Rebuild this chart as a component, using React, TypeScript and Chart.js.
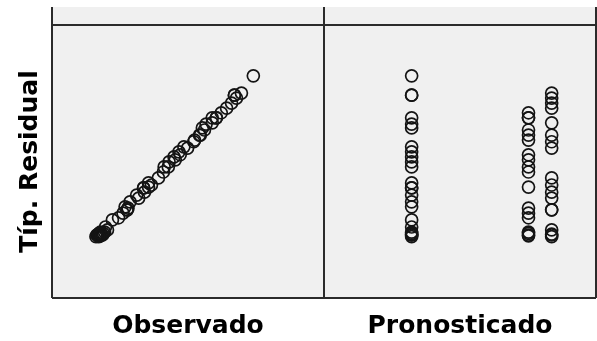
import { useEffect, useRef } from "react";
import { Chart, registerables } from "chart.js";

Chart.register(...registerables);

// Predicted value shared by every case in each group
const PRED_LEVELS = [3.07, 4.23, 4.46];

// Standardized residuals, per predicted-value group
const RESID_G1 = [2.17, 1.71, 1.71, 1.17, 1.02, 0.93, 0.48, 0.36, 0.24, 0.12, 0.0, -0.38, -0.5, -0.5, -0.67, -0.83, -0.95, -1.26, -1.43, -1.55, -1.62, -1.66, -1.58, -1.62, -1.6];
const RESID_G2 = [1.29, 1.17, 1.17, 0.88, 0.76, 0.64, 0.29, 0.17, 0.0, -0.12, -0.48, -0.98, -1.1, -1.21, -1.55, -1.62, -1.58, -1.64];
const RESID_G3 = [1.76, 1.64, 1.52, 1.4, 1.05, 0.76, 0.6, 0.45, -0.26, -0.43, -0.6, -0.74, -1.02, -1.02, -1.5, -1.62, -1.6, -1.66];

// Observed values for the same cases, in the same order
const OBS_G1 = [5.67, 5.21, 5.21, 4.67, 4.52, 4.43, 3.98, 3.86, 3.74, 3.62, 3.5, 3.12, 3.0, 3.0, 2.83, 2.67, 2.55, 2.24, 2.07, 1.95, 1.88, 1.84, 1.92, 1.86, 1.9];
const OBS_G2 = [4.89, 4.77, 4.77, 4.48, 4.36, 4.24, 3.89, 3.77, 3.6, 3.48, 3.12, 2.62, 2.5, 2.39, 2.05, 1.98, 2.02, 1.94];
const OBS_G3 = [5.38, 5.26, 5.14, 5.02, 4.67, 4.38, 4.22, 4.07, 3.36, 3.19, 3.02, 2.88, 2.6, 2.6, 2.12, 2.0, 1.97, 1.91];

// Axis ranges of the matrix cells
const RESID_RANGE = [-3.12, 3.38];
const OBS_RANGE = [0.77, 7.39];
const PRED_RANGE = [2.2, 4.9];

const X_TITLES = ["Observado", "Pronosticado"];
const Y_TITLE = "Típ. Residual";

const RESID_GROUPS = [RESID_G1, RESID_G2, RESID_G3];
const OBS_GROUPS = [OBS_G1, OBS_G2, OBS_G3];

const FONT = { family: "'DejaVu Sans', Verdana, sans-serif", size: 25, weight: "bold" as const };
const FRAME_COLOR = "#2b2b2b";
const CELL_FILL = "#f0f0f0";
const STRIP_TOP = 7;

// Paints the grey cells of the scatterplot matrix and their frames
const matrixFrame = {
  id: "matrixFrame",
  beforeDraw(chart: any) {
    const { ctx, chartArea } = chart;
    const xo = chart.scales.xObs;
    const xp = chart.scales.xPred;
    const left = xo.left;
    const mid = xo.right;
    const right = xp.right;
    const top = chartArea.top;
    const bottom = chartArea.bottom;
    ctx.save();
    ctx.fillStyle = CELL_FILL;
    ctx.fillRect(left, STRIP_TOP, right - left, bottom - STRIP_TOP);
    ctx.strokeStyle = FRAME_COLOR;
    ctx.lineWidth = 2;
    ctx.beginPath();
    ctx.moveTo(left, top);
    ctx.lineTo(right, top);
    ctx.moveTo(left, bottom);
    ctx.lineTo(right, bottom);
    for (const x of [left, mid, right]) {
      ctx.moveTo(x, STRIP_TOP);
      ctx.lineTo(x, bottom);
    }
    ctx.stroke();
    ctx.restore();
  },
};

export default function App() {
  const canvasRef = useRef<HTMLCanvasElement | null>(null);

  useEffect(() => {
    document.body.style.margin = "0";
    const canvas = canvasRef.current;
    if (!canvas) return;

    const obsPoints: { x: number; y: number }[] = [];
    const predPoints: { x: number; y: number }[] = [];
    RESID_GROUPS.forEach((resids, g) => {
      resids.forEach((r, i) => {
        obsPoints.push({ x: OBS_GROUPS[g][i], y: r });
        predPoints.push({ x: PRED_LEVELS[g], y: r });
      });
    });

    const pointStyle = {
      pointRadius: 6,
      pointHoverRadius: 6,
      pointBorderWidth: 1.7,
      pointBorderColor: "#141414",
      pointBackgroundColor: "rgba(0,0,0,0)",
      showLine: false,
    };

    const hiddenAxis = {
      ticks: { display: false },
      grid: { display: false, drawTicks: false },
      border: { display: false },
    };

    const chart = new Chart(canvas, {
      type: "scatter",
      data: {
        datasets: [
          { label: X_TITLES[0], data: obsPoints, xAxisID: "xObs", yAxisID: "y", ...pointStyle },
          { label: X_TITLES[1], data: predPoints, xAxisID: "xPred", yAxisID: "y", ...pointStyle },
        ],
      },
      options: {
        animation: false,
        responsive: false,
        devicePixelRatio: 1,
        layout: { autoPadding: false, padding: { top: 25, right: 1, left: 0, bottom: 0 } },
        plugins: {
          legend: { display: false },
          tooltip: { enabled: false },
        },
        scales: {
          xObs: {
            type: "linear",
            position: "bottom",
            stack: "cells",
            stackWeight: 1,
            min: OBS_RANGE[0],
            max: OBS_RANGE[1],
            ...hiddenAxis,
            title: {
              display: true,
              text: X_TITLES[0],
              color: "#000",
              font: FONT,
              padding: { top: 13, bottom: 0 },
            },
          },
          xPred: {
            type: "linear",
            position: "bottom",
            stack: "cells",
            stackWeight: 1,
            min: PRED_RANGE[0],
            max: PRED_RANGE[1],
            ...hiddenAxis,
            title: {
              display: true,
              text: X_TITLES[1],
              color: "#000",
              font: FONT,
              padding: { top: 13, bottom: 0 },
            },
          },
          y: {
            type: "linear",
            position: "left",
            min: RESID_RANGE[0],
            max: RESID_RANGE[1],
            ...hiddenAxis,
            title: {
              display: true,
              text: Y_TITLE,
              color: "#000",
              font: FONT,
              padding: { top: 15, bottom: 7 },
            },
          },
        },
      },
      plugins: [matrixFrame],
    });

    return () => chart.destroy();
  }, []);

  return (
    <div style={{ position: "absolute", left: 0, top: 0, width: 597, height: 341, background: "#fff" }}>
      <canvas ref={canvasRef} width={597} height={341} style={{ display: "block", width: 597, height: 341 }} />
    </div>
  );
}
